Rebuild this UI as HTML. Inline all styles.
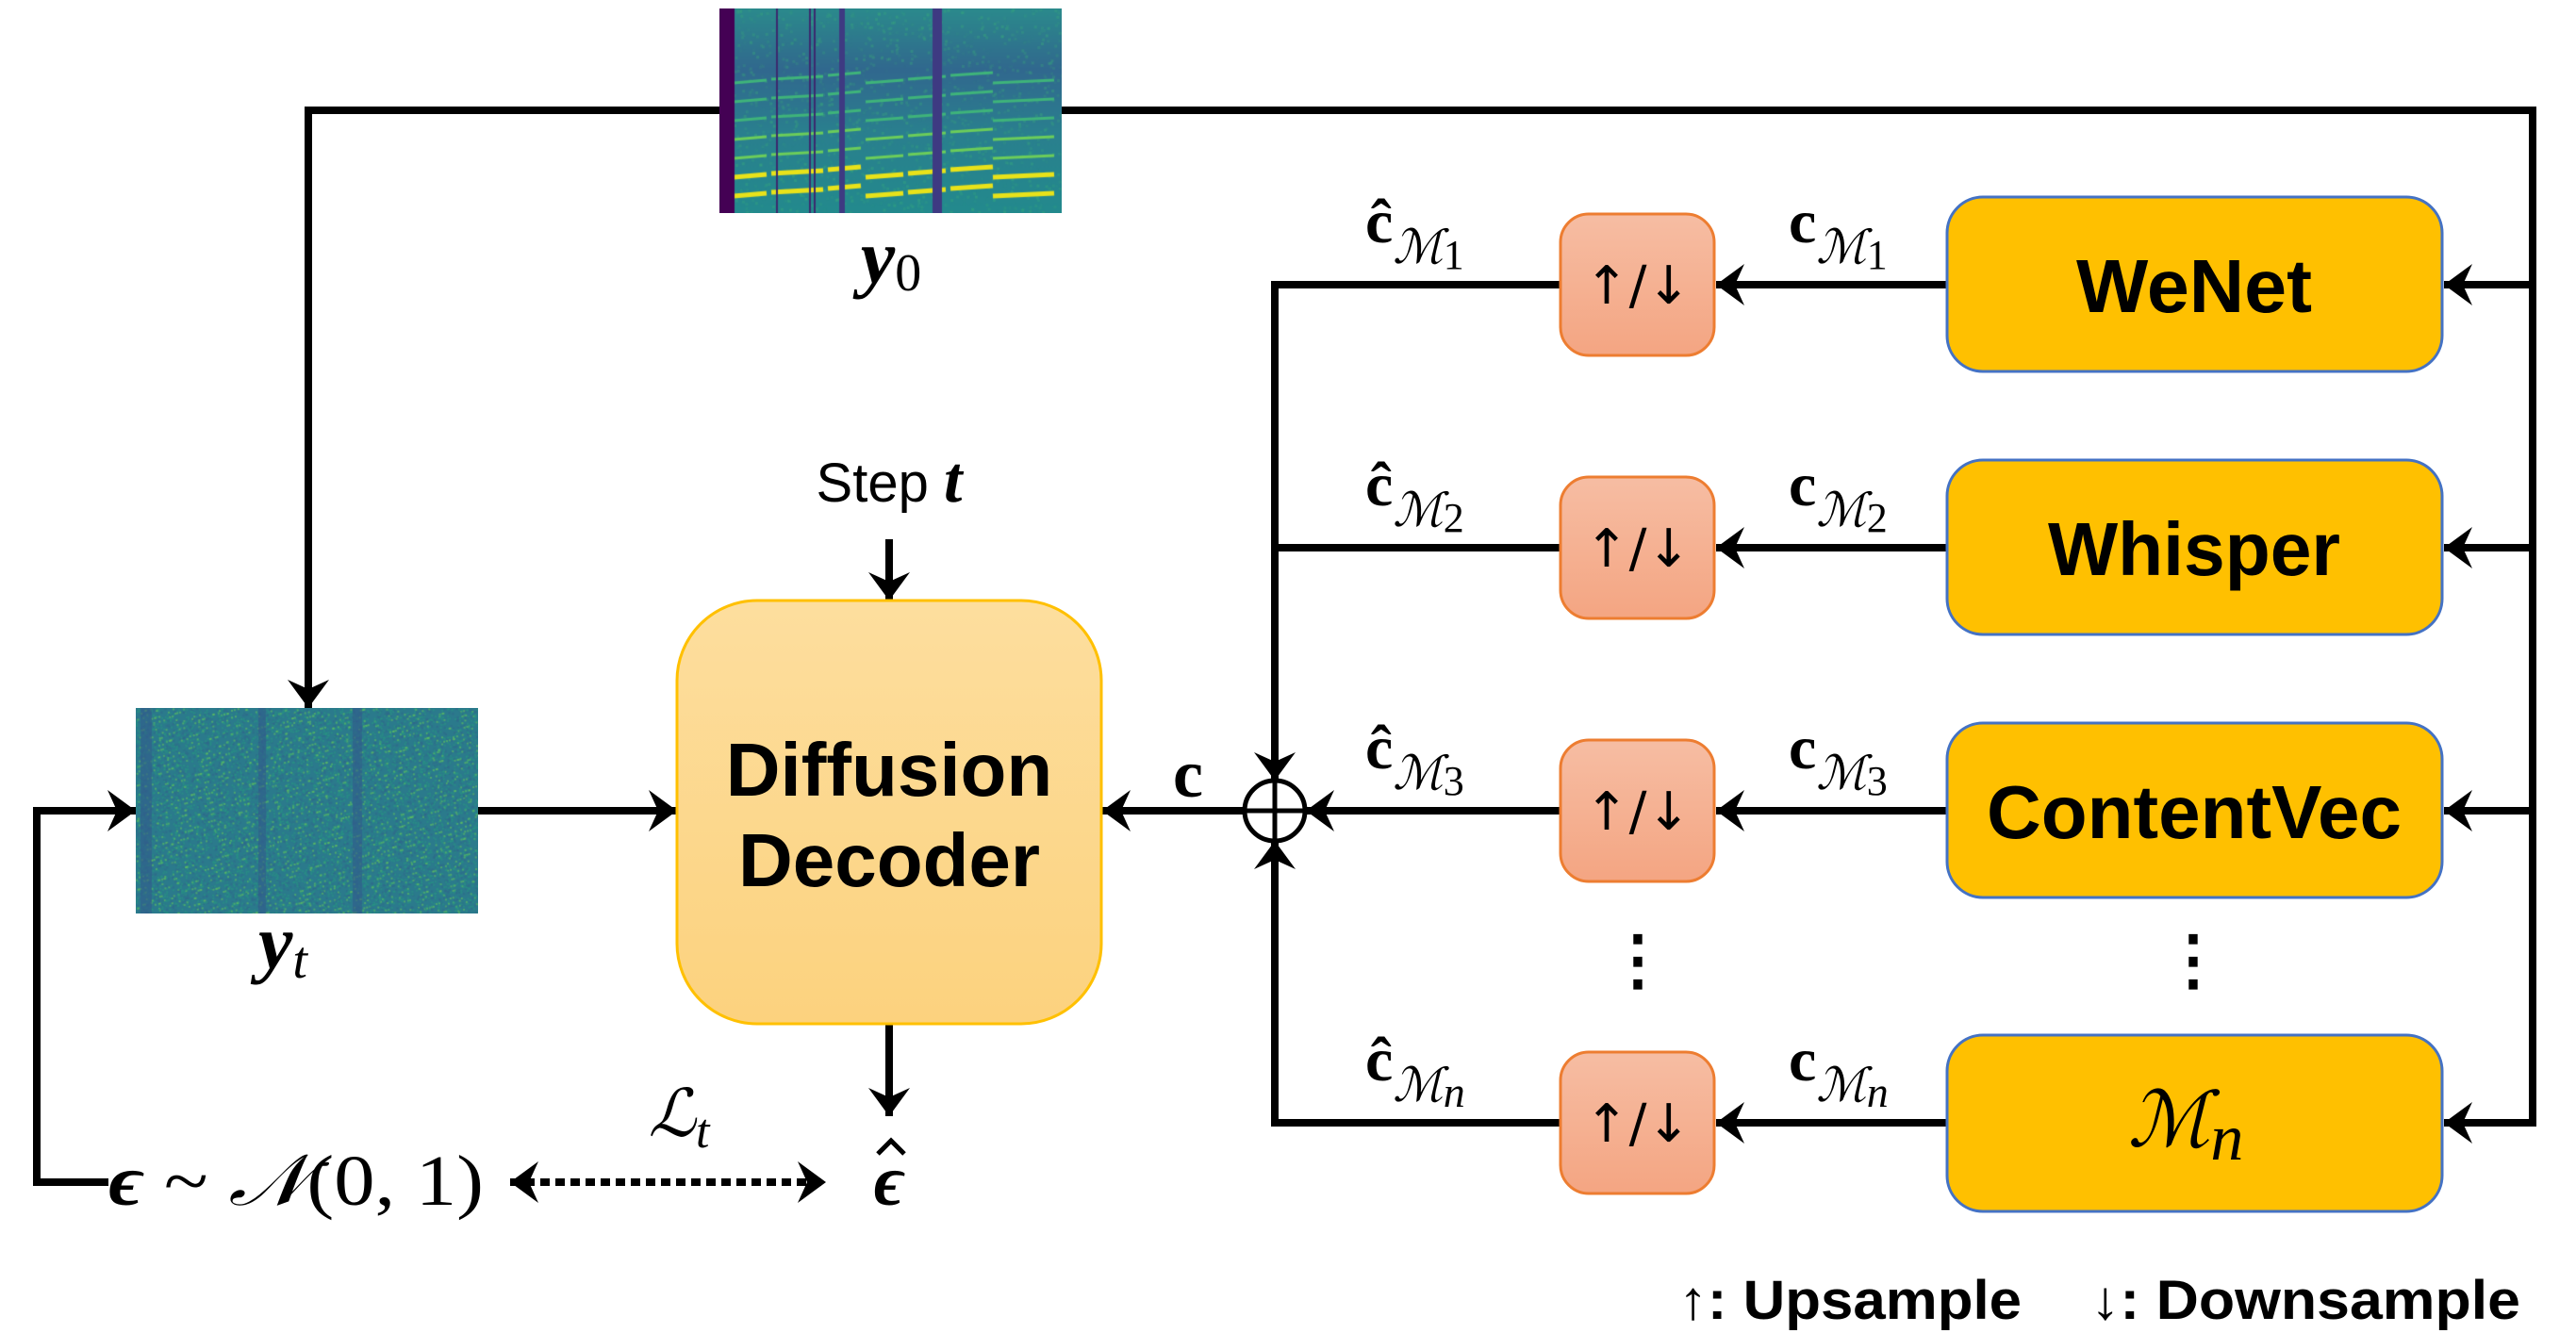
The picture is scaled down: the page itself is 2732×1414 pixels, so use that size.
<!DOCTYPE html>
<html><head><meta charset="utf-8"><style>
html,body{margin:0;padding:0;background:#fff;}
svg{display:block;}
.m{font-family:"Liberation Serif","DejaVu Serif",serif;}
</style></head><body>
<svg width="2732" height="1414" viewBox="0 0 2732 1414" xmlns="http://www.w3.org/2000/svg">
<defs>
<marker id="ar" markerUnits="userSpaceOnUse" markerWidth="40" markerHeight="50" viewBox="-34 -25 40 50" refX="0" refY="0" orient="auto">
<path d="M0,0 L-30,-22 L-20,0 L-30,22 Z" fill="#000"/>
</marker>
<marker id="ars" markerUnits="userSpaceOnUse" markerWidth="40" markerHeight="50" viewBox="-34 -25 40 50" refX="0" refY="0" orient="auto-start-reverse">
<path d="M0,0 L-30,-22 L-20,0 L-30,22 Z" fill="#000"/>
</marker>
<linearGradient id="gd" x1="0" y1="0" x2="0" y2="1"><stop offset="0" stop-color="#FDDE9E"/><stop offset="1" stop-color="#FCD27E"/></linearGradient>
<linearGradient id="gs" x1="0" y1="0" x2="0" y2="1"><stop offset="0" stop-color="#F6BDA3"/><stop offset="1" stop-color="#F4A582"/></linearGradient>
</defs>

<foreignObject x="763" y="9" width="363" height="217"><canvas xmlns="http://www.w3.org/1999/xhtml" id="c0" width="363" height="217" style="display:block"></canvas></foreignObject>
<foreignObject x="144" y="751" width="363" height="218"><canvas xmlns="http://www.w3.org/1999/xhtml" id="c1" width="363" height="218" style="display:block"></canvas></foreignObject>

<g stroke="#000" stroke-width="8" fill="none">
<polyline points="763,117 327,117 327,751" marker-end="url(#ar)"/>
<polyline points="1126,117 2686,117 2686,1191 2592,1191" marker-end="url(#ar)"/>
<line x1="2686" y1="302" x2="2592" y2="302" marker-end="url(#ar)"/>
<line x1="2686" y1="581" x2="2592" y2="581" marker-end="url(#ar)"/>
<line x1="2686" y1="860" x2="2592" y2="860" marker-end="url(#ar)"/>
<line x1="2065" y1="302" x2="1820" y2="302" marker-end="url(#ar)"/>
<line x1="2065" y1="581" x2="1820" y2="581" marker-end="url(#ar)"/>
<line x1="2065" y1="860" x2="1820" y2="860" marker-end="url(#ar)"/>
<line x1="2065" y1="1191" x2="1820" y2="1191" marker-end="url(#ar)"/>
<polyline points="1655,302 1352,302 1352,828" marker-end="url(#ar)"/>
<line x1="1655" y1="581" x2="1352" y2="581"/>
<line x1="1655" y1="860" x2="1385" y2="860" marker-end="url(#ar)"/>
<polyline points="1655,1191 1352,1191 1352,892" marker-end="url(#ar)"/>
<line x1="1320" y1="860" x2="1169" y2="860" marker-end="url(#ar)"/>
<line x1="507" y1="860" x2="718" y2="860" marker-end="url(#ar)"/>
<polyline points="115,1254 39,1254 39,860 144,860" marker-end="url(#ar)"/>
<line x1="943" y1="572" x2="943" y2="637" marker-end="url(#ar)"/>
<line x1="943" y1="1086" x2="943" y2="1184" marker-end="url(#ar)"/>
<line x1="541" y1="1254" x2="876" y2="1254" stroke-dasharray="10 6" marker-start="url(#ars)" marker-end="url(#ar)"/>
</g>
<circle cx="1352" cy="860" r="32" fill="none" stroke="#000" stroke-width="5"/>
<line x1="1320" y1="860" x2="1384" y2="860" stroke="#000" stroke-width="5"/>
<line x1="1352" y1="828" x2="1352" y2="892" stroke="#000" stroke-width="5"/>

<rect x="718" y="637" width="450" height="449" rx="85" fill="url(#gd)" stroke="#FFC000" stroke-width="3"/>
<text x="943" y="844" text-anchor="middle" font-family="Liberation Sans,sans-serif" font-weight="bold" font-size="80">Diffusion</text>
<text x="943" y="940" text-anchor="middle" font-family="Liberation Sans,sans-serif" font-weight="bold" font-size="80">Decoder</text>

<g fill="#FFC000" stroke="#4472C4" stroke-width="3">
<rect x="2065" y="209" width="525" height="185" rx="38"/>
<rect x="2065" y="488" width="525" height="185" rx="38"/>
<rect x="2065" y="767" width="525" height="185" rx="38"/>
<rect x="2065" y="1098" width="525" height="187" rx="38"/>
</g>
<g font-family="Liberation Sans,sans-serif" font-weight="bold" font-size="80" text-anchor="middle">
<text x="2327" y="331" textLength="250" lengthAdjust="spacingAndGlyphs">WeNet</text>
<text x="2327" y="610" textLength="310" lengthAdjust="spacingAndGlyphs">Whisper</text>
<text x="2327" y="889" textLength="440" lengthAdjust="spacingAndGlyphs">ContentVec</text>
</g>
<text x="2318" y="1216" class="m" font-style="italic" font-size="82" text-anchor="middle">ℳ<tspan font-size="70" dy="14">n</tspan></text>

<g fill="url(#gs)" stroke="#ED7D31" stroke-width="3">
<rect x="1655" y="227" width="163" height="150" rx="30"/>
<rect x="1655" y="506" width="163" height="150" rx="30"/>
<rect x="1655" y="785" width="163" height="150" rx="30"/>
<rect x="1655" y="1116" width="163" height="150" rx="30"/>
</g>
<g font-family="DejaVu Sans,Liberation Sans,sans-serif" font-size="56" text-anchor="middle">
<text x="1737" y="322">↑/↓</text>
<text x="1737" y="601">↑/↓</text>
<text x="1737" y="880">↑/↓</text>
<text x="1737" y="1211">↑/↓</text>
</g>
<g font-family="Liberation Sans,sans-serif" font-weight="bold" font-size="70" text-anchor="middle">
<text x="1737" y="1042">⋮</text>
<text x="2326" y="1042">⋮</text>
</g>

<g class="m" font-size="66">
<text x="1448" y="257"><tspan font-weight="bold">ĉ</tspan><tspan font-style="italic" font-size="50" dy="22">ℳ</tspan><tspan font-size="44" dy="6">1</tspan></text>
<text x="1448" y="536"><tspan font-weight="bold">ĉ</tspan><tspan font-style="italic" font-size="50" dy="22">ℳ</tspan><tspan font-size="44" dy="6">2</tspan></text>
<text x="1448" y="815"><tspan font-weight="bold">ĉ</tspan><tspan font-style="italic" font-size="50" dy="22">ℳ</tspan><tspan font-size="44" dy="6">3</tspan></text>
<text x="1448" y="1146"><tspan font-weight="bold">ĉ</tspan><tspan font-style="italic" font-size="50" dy="22">ℳ</tspan><tspan font-style="italic" font-size="46" dy="6">n</tspan></text>
<text x="1897" y="257"><tspan font-weight="bold">c</tspan><tspan font-style="italic" font-size="50" dy="22">ℳ</tspan><tspan font-size="44" dy="6">1</tspan></text>
<text x="1897" y="536"><tspan font-weight="bold">c</tspan><tspan font-style="italic" font-size="50" dy="22">ℳ</tspan><tspan font-size="44" dy="6">2</tspan></text>
<text x="1897" y="815"><tspan font-weight="bold">c</tspan><tspan font-style="italic" font-size="50" dy="22">ℳ</tspan><tspan font-size="44" dy="6">3</tspan></text>
<text x="1897" y="1146"><tspan font-weight="bold">c</tspan><tspan font-style="italic" font-size="50" dy="22">ℳ</tspan><tspan font-style="italic" font-size="46" dy="6">n</tspan></text>
<text x="1260" y="845" font-weight="bold" font-size="72" text-anchor="middle">c</text>
</g>

<text x="945" y="300" class="m" font-size="82" text-anchor="middle"><tspan font-weight="bold" font-style="italic">y</tspan><tspan font-size="56" dy="8">0</tspan></text>
<text x="300" y="1027" class="m" font-size="82" text-anchor="middle"><tspan font-weight="bold" font-style="italic">y</tspan><tspan font-style="italic" font-size="56" dy="10">t</tspan></text>
<text x="943" y="532" text-anchor="middle"><tspan font-family="Liberation Sans,sans-serif" font-size="58">Step </tspan><tspan class="m" font-weight="bold" font-style="italic" font-size="70">t</tspan></text>
<text x="115" y="1278" class="m" font-size="76" textLength="398" lengthAdjust="spacingAndGlyphs"><tspan font-weight="bold" font-style="italic">ϵ</tspan> ~ <tspan font-style="italic">𝒩</tspan>(0, 1)</text>
<text x="943" y="1278" class="m" font-size="76" font-weight="bold" font-style="italic" text-anchor="middle">ϵ</text>
<path d="M931,1224 L945,1210 L959,1224" fill="none" stroke="#000" stroke-width="5"/>
<text x="720" y="1205" class="m" font-size="70" font-style="italic" text-anchor="middle">ℒ<tspan font-size="52" dy="12">t</tspan></text>

<g font-family="Liberation Sans,sans-serif" font-weight="bold" font-size="58">
<text x="1780" y="1399" textLength="364" lengthAdjust="spacingAndGlyphs">↑: Upsample</text>
<text x="2217" y="1399" textLength="456" lengthAdjust="spacingAndGlyphs">↓: Downsample</text>
</g>
</svg>
<script>
function rnd(s){return function(){s=(s*9301+49297)%233280;return s/233280;}}
(function(){
var c=document.getElementById('c0'),x=c.getContext('2d'),r=rnd(7);
var W=363,H=217;
var g=x.createLinearGradient(0,0,0,H);g.addColorStop(0,'#2b8a8c');g.addColorStop(0.3,'#31688e');g.addColorStop(0.6,'#2a7f8e');g.addColorStop(1,'#238a8d');
x.fillStyle=g;x.fillRect(0,0,W,H);
for(var i=0;i<1500;i++){x.fillStyle='rgba(60,180,120,'+(r()*0.35)+')';x.fillRect(r()*W,r()*H,3,3);}
var segs=[[15,50],[55,110],[115,150],[155,195],[200,240],[245,290],[290,355]];
segs.forEach(function(s,k){
 for(var h=0;h<7;h++){
  var y=H-18-h*20-(k%3)*4;
  x.strokeStyle=h<2?'#e8e21a':(h<4?'#6ccd5a':'#3fb47a');x.lineWidth=h<2?5:3;
  x.beginPath();x.moveTo(s[0],y);x.lineTo(s[1],y-3);x.stroke();
 }
});
x.fillStyle='#3b2a6e';[60,95,100,130].forEach(function(v){x.fillRect(v,0,2,H)});
x.fillStyle='#3e3a82';x.fillRect(127,0,6,H);x.fillRect(226,0,10,H);
x.fillStyle='#440154';x.fillRect(0,0,16,H);
var c1=document.getElementById('c1'),y=c1.getContext('2d');W=363;H=218;r=rnd(13);
y.fillStyle='#2b7a8c';y.fillRect(0,0,W,H);
for(i=0;i<9000;i++){var v=r();y.fillStyle=v<0.5?'rgba(40,150,130,0.6)':(v<0.8?'rgba(50,100,140,0.5)':'rgba(100,200,90,0.6)');y.fillRect(r()*W,r()*H,2,2);}
y.fillStyle='rgba(50,90,140,0.6)';y.fillRect(5,0,12,H);y.fillRect(130,0,8,H);y.fillRect(230,0,10,H);
})();
</script>
</body></html>
